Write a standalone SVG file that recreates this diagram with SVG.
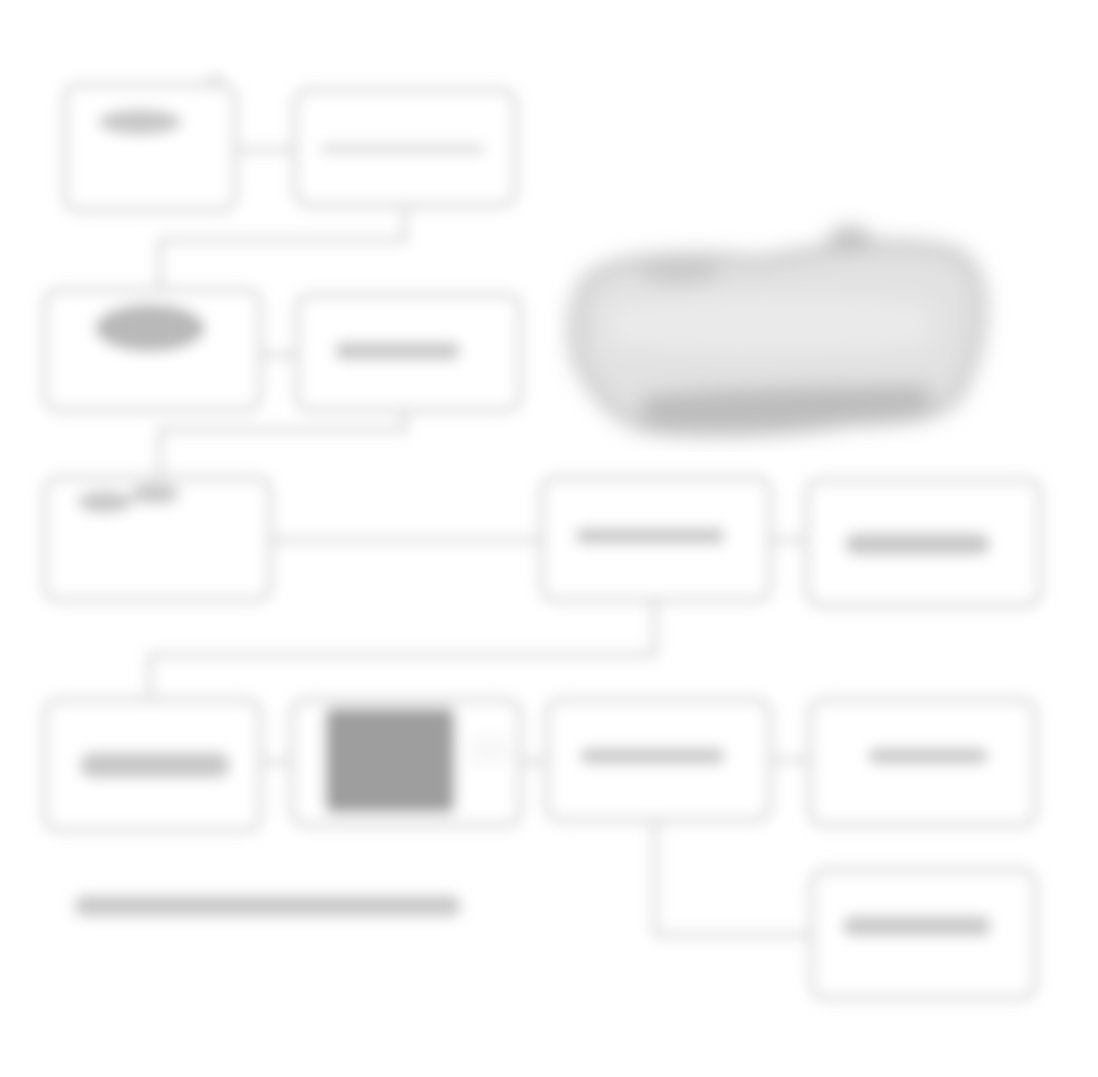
<svg xmlns="http://www.w3.org/2000/svg" width="1098" height="1077" viewBox="0 0 1098 1077">
<defs>
<filter id="blur" x="-5%" y="-5%" width="110%" height="110%"><feGaussianBlur stdDeviation="7"/></filter>
<filter id="blur2" x="-10%" y="-10%" width="120%" height="120%"><feGaussianBlur stdDeviation="10"/></filter>
</defs>
<style>
.box{fill:#ffffff;stroke:#d2d2d2;stroke-width:5}
.ln{fill:none;stroke:#d6d6d6;stroke-width:5}
.tx{fill:#c8c8c8}
.txl{fill:#dedede}
</style>
<rect width="1098" height="1077" fill="#ffffff"/>
<g filter="url(#blur)">
<g id="connectors">
<path class="ln" d="M235 150 H295"/>
<path class="ln" d="M405 205 V240 H160 V290"/>
<path class="ln" d="M260 355 H297"/>
<path class="ln" d="M405 410 V430 H160 V478"/>
<path class="ln" d="M270 540 H542"/>
<path class="ln" d="M770 540 H807"/>
<path class="ln" d="M655 600 V655 H150 V700"/>
<path class="ln" d="M260 762 H292"/>
<path class="ln" d="M520 762 H547"/>
<path class="ln" d="M770 760 H810"/>
<path class="ln" d="M655 820 V935 H812"/>
</g>
<g id="nodeA"><rect class="box" x="65" y="85" width="170" height="125" rx="14"/><ellipse class="tx" cx="140" cy="122" rx="42" ry="13"/><circle class="txl" cx="215" cy="82" r="8"/></g>
<g id="nodeB"><rect class="box" x="295" y="90" width="220" height="115" rx="14"/><rect class="txl" x="320" y="144" width="165" height="10" rx="5"/></g>
<g id="nodeC"><rect class="box" x="45" y="290" width="215" height="120" rx="14"/><ellipse fill="#b9b9b9" cx="150" cy="328" rx="55" ry="24"/></g>
<g id="nodeD"><rect class="box" x="297" y="295" width="223" height="115" rx="14"/><rect class="tx" x="335" y="342" width="125" height="18" rx="8"/></g>
<g id="nodeE"><rect class="box" x="45" y="478" width="225" height="122" rx="14"/><ellipse class="tx" cx="105" cy="502" rx="28" ry="11"/><ellipse class="tx" cx="155" cy="494" rx="25" ry="10"/></g>
<g id="nodeF"><rect class="box" x="542" y="478" width="228" height="122" rx="14"/><rect class="tx" x="575" y="528" width="150" height="16" rx="8"/></g>
<g id="nodeG"><rect class="box" x="807" y="480" width="233" height="125" rx="14"/><rect class="tx" x="845" y="533" width="145" height="22" rx="10"/></g>
<g id="nodeH"><rect class="box" x="45" y="700" width="215" height="130" rx="14"/><rect class="tx" x="80" y="752" width="150" height="26" rx="12"/></g>
<g id="nodeI"><rect class="box" x="292" y="700" width="228" height="125" rx="14"/><rect fill="#9e9e9e" x="325" y="708" width="130" height="105" rx="8"/><rect fill="#f8f8f8" x="470" y="735" width="40" height="30" rx="8"/></g>
<g id="nodeJ"><rect class="box" x="547" y="700" width="223" height="120" rx="14"/><rect class="tx" x="580" y="748" width="145" height="16" rx="8"/></g>
<g id="nodeK"><rect class="box" x="810" y="700" width="225" height="125" rx="14"/><rect class="tx" x="868" y="748" width="120" height="16" rx="8"/></g>
<g id="nodeL"><rect class="box" x="812" y="870" width="223" height="128" rx="14"/><rect class="tx" x="843" y="916" width="148" height="20" rx="9"/></g>
<g id="caption"><rect class="tx" x="75" y="896" width="385" height="20" rx="8"/></g>
</g>
<g id="component" filter="url(#blur2)">
<path d="M585 285 C600 255 700 255 760 262 C820 250 900 235 960 255 C990 280 985 340 960 390 C950 415 900 420 850 420 C800 430 720 435 650 428 C620 420 600 400 590 380 C570 360 570 310 585 285 Z" fill="#e2e2e2" stroke="#c8c8c8" stroke-width="12"/>
<path d="M610 305 C700 295 850 290 930 305 L930 345 C850 355 700 355 610 345 Z" fill="#eaeaea"/>
<path d="M640 395 C700 390 800 385 930 385 L930 415 C850 425 720 430 645 425 Z" fill="#bdbdbd"/>
<ellipse cx="850" cy="240" rx="22" ry="14" fill="#c2c2c2"/>
<ellipse cx="680" cy="272" rx="40" ry="12" fill="#cacaca"/>
</g>
</svg>
